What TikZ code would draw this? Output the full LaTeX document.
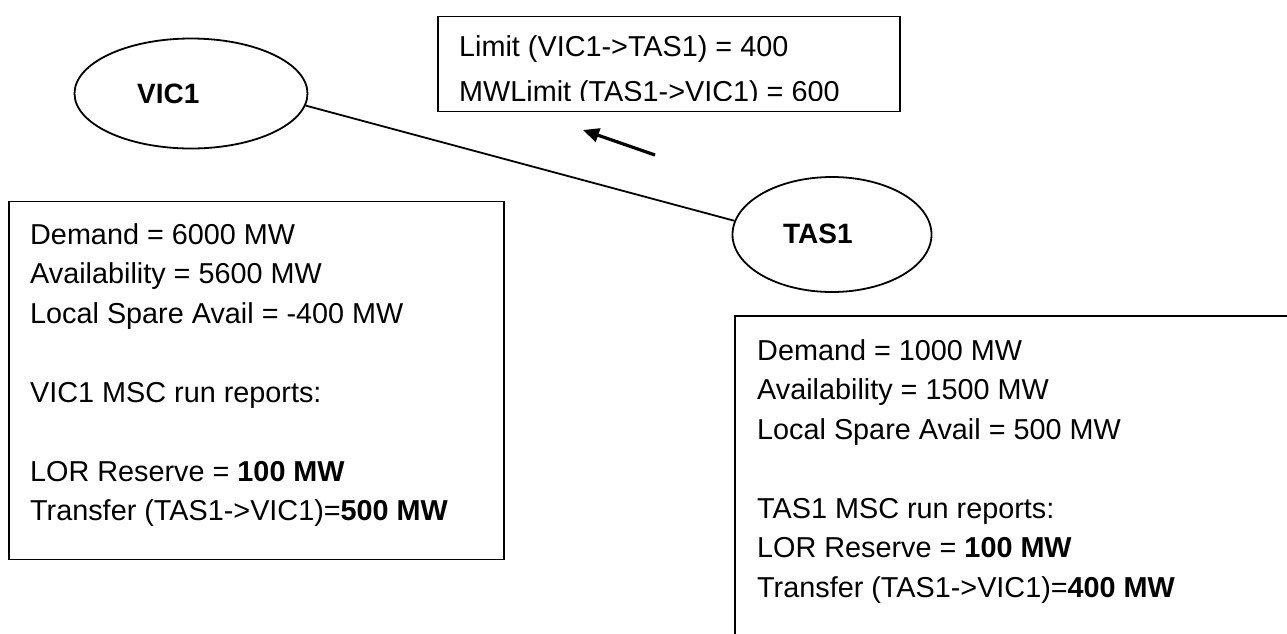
\documentclass[tikz,border=0pt]{standalone}
\usepackage{fontspec}
\setmainfont{Liberation Sans}
\usetikzlibrary{shapes.geometric,arrows.meta}
\begin{document}
\begin{tikzpicture}[x=1pt,y=-1pt,
  ln/.style={line width=1.8pt},
  txt/.style={anchor=base west, inner sep=0pt, font=\fontsize{28.8}{34}\selectfont},
  ttl/.style={anchor=base west, inner sep=0pt, font=\fontsize{28}{34}\selectfont\bfseries},
  box/.style={draw, ln, rectangle, anchor=north west, inner sep=0pt},
  bubble/.style={draw, ln, ellipse, inner sep=0pt},
  arr/.style={line width=3.2pt, -{Triangle[length=16pt,width=14pt]}}]
\clip (0,0) rectangle (1287,633);
\fill[white] (0,0) rectangle (1287,633);
% ellipses
\node[bubble, minimum width=233pt, minimum height=110pt] (vic) at (191,93.5) {};
\node[ttl] (vict) at (137,103) {VIC1};
\node[bubble, minimum width=199pt, minimum height=115pt] (tas) at (832,234.5) {};
\node[ttl] (tast) at (783,243) {TAS1};
\draw[ln] (vic.-6.5) -- (tas.172.5);
% top box
\node[box, minimum width=462pt, minimum height=95pt] (lim) at (437,15.5) {};
\begin{scope}
\clip (437,15) rectangle (899,100.5);
\node[txt] (lim1) at (459,56) {Limit (VIC1->TAS1) = 400};
\node[txt] (lim2) at (459,101.5) {MWLimit (TAS1->VIC1) = 600};
\end{scope}
% flow arrow
\coordinate (atail) at (655,155);
\coordinate (ahead) at (583,130);
\draw[arr] (atail) -- (ahead);
% left box
\node[box, minimum width=495pt, minimum height=358pt] (vbox) at (8,200.5) {};
\node[txt] (v1) at (30,244) {Demand = 6000 MW};
\node[txt] (v2) at (30,283.5) {Availability = 5600 MW};
\node[txt] (v3) at (30,323) {Local Spare Avail = -400 MW};
\node[txt] (v4) at (30,402) {VIC1 MSC run reports:};
\node[txt] (v5) at (30,481) {LOR Reserve = \textbf{100 MW}};
\node[txt] (v6) at (30,520.5) {Transfer (TAS1->VIC1)=\textbf{500 MW}};
% right box
\node[box, minimum width=600pt, minimum height=400pt] (tbox) at (734,315) {};
\node[txt] (t1) at (757,360) {Demand = 1000 MW};
\node[txt] (t2) at (757,399.5) {Availability = 1500 MW};
\node[txt] (t3) at (757,439) {Local Spare Avail = 500 MW};
\node[txt] (t4) at (757,518) {TAS1 MSC run reports:};
\node[txt] (t5) at (757,557.5) {LOR Reserve = \textbf{100 MW}};
\node[txt] (t6) at (757,597) {Transfer (TAS1->VIC1)=\textbf{400 MW}};
\end{tikzpicture}
\end{document}
